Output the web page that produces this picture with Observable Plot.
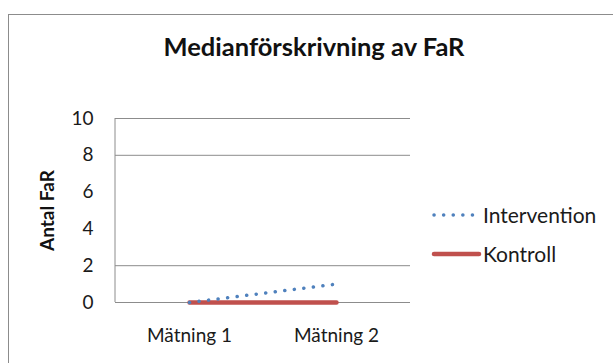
<!DOCTYPE html>
<html>
<head>
<meta charset="utf-8">
<script src="https://cdn.jsdelivr.net/npm/d3@7"></script>
<script src="https://cdn.jsdelivr.net/npm/@observablehq/plot@0.6"></script>
<style>
  html, body { margin: 0; padding: 0; background: #fff; }
  #wrap { position: relative; width: 613px; height: 363px; overflow: hidden; font-family: Lato, "Open Sans", sans-serif; }
  #frame { position: absolute; left: 8px; top: 14px; width: 700px; height: 400px; border: 1.5px solid #8c8c8c; box-sizing: border-box; }
  #title { position: absolute; left: 0; top: 31px; width: 628px; text-align: center; font-weight: bold; font-size: 25.5px; line-height: 30px; color: #111; }
  #chart { position: absolute; left: 0; top: 0; }
  #legend { position: absolute; left: 430px; top: 195px; font-size: 21px; color: #1a1a1a; }
  .item { display: flex; align-items: center; height: 39px; }
  .item svg { margin-right: 1px; }
</style>
</head>
<body>
<div id="wrap">
  <div id="frame"></div>
  <div id="title">Medianförskrivning av FaR</div>
  <div id="chart"></div>
  <div id="legend"></div>
</div>
<script>
const categories = ["Mätning 1", "Mätning 2"];
const intervention = [0, 1];
const kontroll = [0, 0];
const yTicks = [0, 2, 4, 6, 8, 10];
const gridValues = [2, 8, 10];
const seriesNames = ["Intervention", "Kontroll"];
const colors = ["#4F81BD", "#C0504D"];

const data = [];
categories.forEach((c, i) => {
  data.push({cat: c, value: intervention[i], series: seriesNames[0]});
  data.push({cat: c, value: kontroll[i], series: seriesNames[1]});
});

const chart = Plot.plot({
  width: 613,
  height: 363,
  marginLeft: 115,
  marginRight: 203,
  marginTop: 118,
  marginBottom: 61,
  style: {fontFamily: "Lato, 'Open Sans', sans-serif", fontSize: "19px", color: "#1a1a1a", background: "transparent", overflow: "visible"},
  x: {type: "point", domain: categories, padding: 0.5, label: null},
  y: {domain: [0, 10], ticks: yTicks, label: null},
  marks: [
    Plot.ruleY(gridValues, {stroke: "#8c8c8c", strokeWidth: 1}),
    Plot.ruleY([0], {stroke: "#8c8c8c", strokeWidth: 1}),
    Plot.axisY({ticks: yTicks, tickSize: 0, tickPadding: 22, fontSize: 19}),
    Plot.axisX({tickSize: 0, tickPadding: 26, fontSize: 19}),
    Plot.lineY(data.filter(d => d.series === "Kontroll"), {x: "cat", y: "value", stroke: colors[1], strokeWidth: 4.5, strokeLinecap: "round"}),
    Plot.lineY(data.filter(d => d.series === "Intervention"), {x: "cat", y: "value", stroke: colors[0], strokeWidth: 3.5, strokeDasharray: "0.1 9.5", strokeLinecap: "round"}),
    Plot.text(["Antal FaR"], {frameAnchor: "left", textAnchor: "middle", dx: -68, rotate: -90, fontWeight: "bold", fontSize: 19, fill: "#111"})
  ]
});
document.getElementById("chart").appendChild(chart);

// left axis line (vertical edge of the plot area)
const xr = chart.scale("x").range;
const yr = chart.scale("y").range;
d3.select(chart).append("line")
  .attr("x1", Math.min(...xr)).attr("x2", Math.min(...xr))
  .attr("y1", Math.min(...yr)).attr("y2", Math.max(...yr))
  .attr("stroke", "#8c8c8c").attr("stroke-width", 1);

const legend = document.getElementById("legend");
seriesNames.forEach((name, i) => {
  const item = document.createElement("div");
  item.className = "item";
  const dash = i === 0 ? 'stroke-dasharray="0.1 9.5" stroke-width="3.5"' : 'stroke-width="4.5"';
  item.innerHTML = `<svg width="52" height="10"><line x1="4" x2${i === 0 ? '="48"' : '="49"'} y1="5" y2="5" stroke="${colors[i]}" stroke-linecap="round" ${dash}/></svg><span>${name}</span>`;
  legend.appendChild(item);
});
</script>
</body>
</html>
